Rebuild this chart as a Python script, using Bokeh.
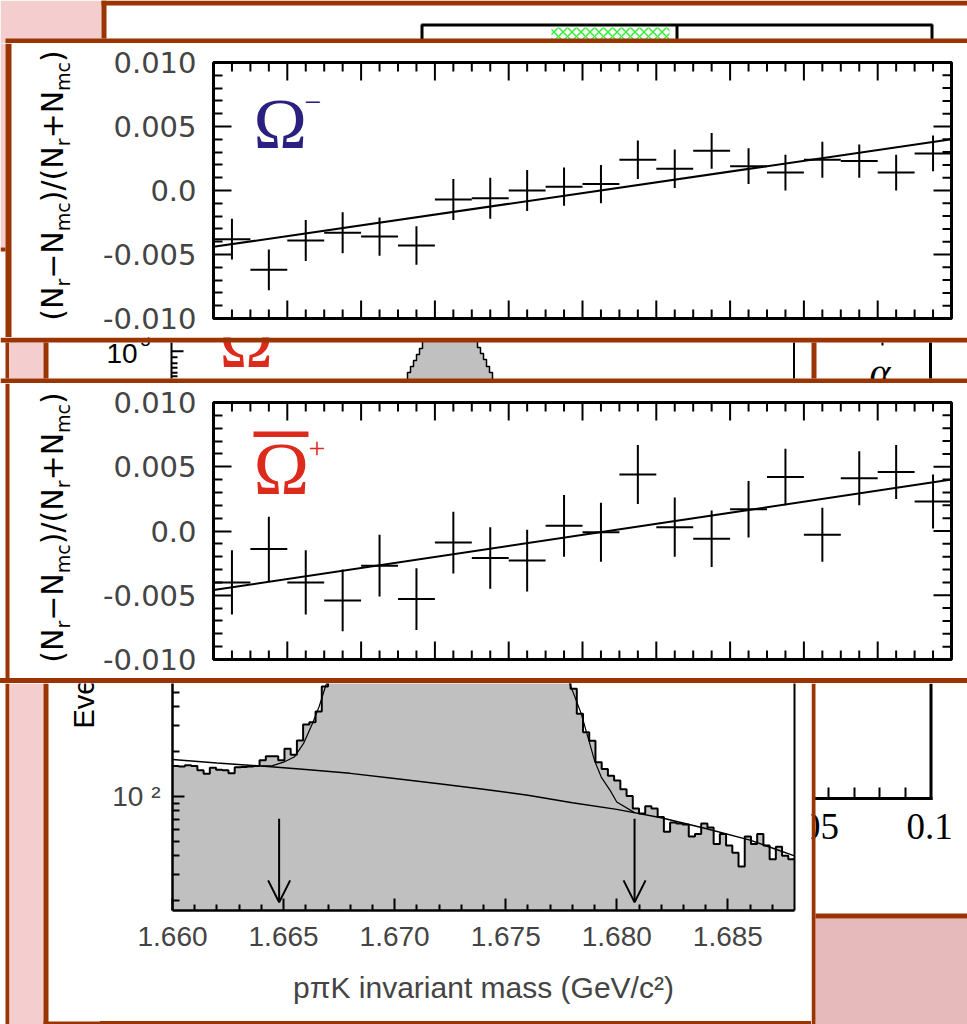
import numpy as np
from bokeh.plotting import figure
from bokeh.layouts import column, row
from bokeh.models import Range1d, LogAxis, FixedTicker, Label, Arrow, OpenHead, BoxAnnotation, Div
from bokeh.core.properties import value
from bokeh.embed import file_html
from bokeh.resources import INLINE

# ---------------- residual panels (20 bins) ----------------
bin_centers = [-0.95, -0.85, -0.75, -0.65, -0.55, -0.45, -0.35, -0.25, -0.15, -0.05,
               0.05, 0.15, 0.25, 0.35, 0.45, 0.55, 0.65, 0.75, 0.85, 0.95]
bin_half = 0.05
omega_minus_res = [-0.0038, -0.0062, -0.0039, -0.0033, -0.0036, -0.0043, -0.0007, -0.0006, -0.0000, 0.0003,
                   0.0005, 0.0024, 0.0017, 0.0031, 0.0019, 0.0014, 0.0024, 0.0023, 0.0014, 0.0029]
omega_minus_err = [0.0016, 0.0016, 0.0016, 0.0016, 0.0015, 0.0015, 0.0016, 0.0016, 0.0016, 0.0015,
                   0.0015, 0.0015, 0.0015, 0.0014, 0.0014, 0.0014, 0.0014, 0.0013, 0.0014, 0.0014]
omega_minus_fit = [-0.0002, 0.0042]        # intercept, slope
omegabar_plus_res = [-0.0040, -0.0014, -0.0040, -0.0054, -0.0027, -0.0053, -0.0009, -0.0021, -0.0023, 0.0004,
                     -0.0001, 0.0044, 0.0003, -0.0006, 0.0017, 0.0042, -0.0003, 0.0041, 0.0046, 0.0023]
omegabar_plus_err = [0.0025, 0.0025, 0.0025, 0.0024, 0.0024, 0.0024, 0.0024, 0.0024, 0.0024, 0.0024,
                     0.0023, 0.0023, 0.0023, 0.0022, 0.0022, 0.0022, 0.0021, 0.0021, 0.0021, 0.0021]
omegabar_plus_fit = [-0.0003, 0.0043]
res_x_range = [-1.0, 1.0]
res_y_range = [-0.010, 0.010]
res_x_ticks = [-0.8, -0.6, -0.4, -0.2, 0.0, 0.2, 0.4, 0.6, 0.8]
res_y_ticks = [-0.010, -0.005, 0.0, 0.005, 0.010]
res_y_labels = ["-0.010", "-0.005", "0.0", "0.005", "0.010"]

# ---------------- mass histogram ----------------
mass_range = [1.660, 1.688]
n_bins = 100
counts = [160, 159, 162, 160, 150, 142, 156, 151, 150, 143, 157, 158, 159, 160, 175, 186, 186, 175, 209, 191,
          238, 304, 315, 372, 547,
          700, 850, 1000, 1200, 1400, 1650, 1900, 2200, 2500, 2800, 3100, 3400, 3650, 3900, 4100,
          4250, 4350, 4420, 4450, 4450, 4400, 4320, 4200, 4050, 3850, 3600, 3350, 3100, 2800, 2500,
          2200, 1950, 1700, 1450, 1250, 1050, 900, 780, 640,
          529, 359, 270, 237, 170, 153, 138, 128, 112, 101, 83, 77, 86, 83, 73, 58, 67, 66, 65, 54,
          56, 66, 62, 48, 56, 47, 42, 34, 54, 48, 56, 47, 38, 46, 40, 38]
bkg_mass = [1.660, 1.662, 1.664, 1.666, 1.668, 1.670, 1.672, 1.674, 1.676, 1.678, 1.680, 1.682, 1.684, 1.686, 1.688]
bkg_counts = [177, 168, 160, 152, 143, 132, 122, 112, 102, 91, 82, 72, 61, 51, 40]
fit_mass = [1.6640, 1.6645, 1.6650, 1.6655, 1.6659, 1.6663, 1.6666, 1.6669, 1.6675, 1.6690, 1.6720,
            1.6740, 1.6760, 1.6775, 1.6780, 1.6784, 1.6787, 1.6790, 1.6793, 1.6797, 1.6800, 1.6808]
fit_counts = [160, 161, 170, 185, 227, 309, 400, 556, 900, 2000, 4000,
              4000, 2000, 800, 515, 359, 250, 174, 135, 110, 92, 78]
cut_mass = [1.6648, 1.6808]
arrow_from, arrow_to = 71.0, 19.5
mass_ticks = [1.660, 1.665, 1.670, 1.675, 1.680, 1.685]
mass_labels = ["1.660", "1.665", "1.670", "1.675", "1.680", "1.685"]
count_range = [17.2, 573.0]
count_major = [100]
count_minor = [20, 30, 40, 50, 60, 70, 80, 90, 200, 300, 400, 500]

# ---------------- styling ----------------
BROWN = "#9a3403"
PINK = "#f4cece"
PINK2 = "#e6baba"
NAVY = "#2a2080"
RED = "#dc2a1c"
GREY = "#c0c0c0"
W = 967
BL = 0.34   # baseline correction (fraction of font size)


def decor(x0, x1, y0, y1, bg="white"):
    p = figure(width=x1 - x0, height=y1 - y0, x_range=Range1d(x0, x1), y_range=Range1d(y1, y0),
               x_axis_type=None, y_axis_type=None, toolbar_location=None, output_backend="svg",
               min_border=0, outline_line_color=None, background_fill_color=bg, border_fill_color=bg)
    p.quad(left=[x0], right=[x1], top=[y0], bottom=[y1], fill_color=bg, line_color=None)
    return p


def box(p, l, r, t, b, c):
    p.quad(left=[l], right=[r], top=[t], bottom=[b], fill_color=c, line_color=None)


def seg(p, x0, y0, x1, y1, w=2, c="black"):
    p.segment(x0=[x0], y0=[y0], x1=[x1], y1=[y1], line_color=c, line_width=w)


def txt(p, x, y, t, font, size, color="black", align="left", style="normal", angle=0.0):
    # y (or x when rotated) is the wanted baseline; shift by the renderer's baseline offset
    if angle:
        x = x - BL * size
    else:
        y = y - BL * size
    p.text(x=[x], y=[y], text=[t], angle=angle, text_font=value(font), text_font_size=f"{size}px",
           text_color=color, text_align=align, text_baseline="alphabetic", text_font_style=style)


def bar(width, height):
    return Div(text="", width=width, height=height, margin=0,
               styles={"background-color": BROWN, "margin": "0", "padding": "0"})


DJ = {"(": 0.390, ")": 0.390, "N": 0.748, "\u2212": 0.838, "+": 0.838, "/": 0.337,
      "r": 0.411, "m": 0.974, "c": 0.550}
LABEL_PIECES = [("(N", 0), ("r", 1), ("\u2212N", 0), ("mc", 1), (")/(N", 0), ("r", 1),
                ("+N", 0), ("mc", 1), (")", 0)]


def vlabel(p, x_base, y_center, fs=30, fss=19, shift=7):
    widths = [sum(DJ[ch] for ch in t) * (fss if s else fs) for t, s in LABEL_PIECES]
    y = y_center + sum(widths) / 2.0
    for (t, s), w in zip(LABEL_PIECES, widths):
        txt(p, x_base + (shift if s else 0), y, t, "DejaVu Sans", fss if s else fs, angle=np.pi / 2)
        y -= w


def resid(y0, y1, res, err, fit, mtop=19, mbot=19):
    p = figure(width=W - 100, height=y1 - y0, x_range=Range1d(*res_x_range), y_range=Range1d(*res_y_range),
               x_axis_type=None, toolbar_location=None, output_backend="svg",
               min_border_left=113, min_border_right=16, min_border_top=mtop, min_border_bottom=mbot,
               outline_line_color="black", outline_line_width=3,
               background_fill_color="white", border_fill_color="white")
    p.grid.visible = False
    x_minor = [round(-1 + 0.05 * i, 2) for i in range(1, 40) if i % 4]
    y_minor = [round(0.001 * i, 3) for i in range(-9, 10) if i % 5]
    ya = p.yaxis[0]
    ya.ticker = FixedTicker(ticks=res_y_ticks, minor_ticks=y_minor)
    ya.major_tick_in = 18
    ya.major_tick_out = 0
    ya.minor_tick_in = 9
    ya.minor_tick_out = 0
    ya.major_tick_line_width = 2
    ya.minor_tick_line_width = 2
    ya.axis_line_color = None
    ya.major_label_overrides = dict(zip(res_y_ticks, res_y_labels))
    ya.major_label_text_font = "DejaVu Sans"
    ya.major_label_text_font_size = "29px"
    ya.major_label_standoff = 17
    # tick marks on the unlabelled sides (top, bottom, right)
    for ticks, ln in ((res_x_ticks, 18), (x_minor, 9)):
        p.ray(x=ticks, y=res_y_range[1], length=ln, length_units="screen", angle=-np.pi / 2,
              line_color="black", line_width=2)
        p.ray(x=ticks, y=res_y_range[0], length=ln, length_units="screen", angle=np.pi / 2,
              line_color="black", line_width=2)
    for ticks, ln in ((res_y_ticks, 18), (y_minor, 9)):
        p.ray(x=res_x_range[1], y=ticks, length=ln, length_units="screen", angle=np.pi,
              line_color="black", line_width=2)
    xs = np.array(bin_centers)
    ys = np.array(res)
    es = np.array(err)
    p.segment(x0=xs - bin_half, x1=xs + bin_half, y0=ys, y1=ys, line_color="black", line_width=2)
    p.segment(x0=xs, x1=xs, y0=ys - es, y1=ys + es, line_color="black", line_width=2)
    fx = np.array(res_x_range)
    p.line(fx, fit[0] + fit[1] * fx, line_color="black", line_width=2)
    return p


def px2data(frame, px, py):
    l, r, t, b = frame
    x = res_x_range[0] + (px - l) / (r - l) * (res_x_range[1] - res_x_range[0])
    y = res_y_range[1] - (py - t) / (b - t) * (res_y_range[1] - res_y_range[0])
    return x, y


def sym(p, frame, px, py, t, size, color):
    x, y = px2data(frame, px, py - BL * size)
    p.add_layout(Label(x=x, y=y, text=t, text_font="Liberation Serif", text_font_size=f"{size}px",
                       text_color=color, text_baseline="alphabetic"))


# ---------------- band A (0-43) ----------------
A = decor(0, W, 0, 43)
box(A, 0, 101, 0, 43, PINK)
box(A, 101, 106, 0, 38, BROWN)
box(A, 101, W, 0, 5, BROWN)
A.quad(left=[551], right=[669], top=[27], bottom=[39], fill_color=None, line_color=None,
       hatch_pattern="x", hatch_color="#33ee33", hatch_scale=9, hatch_weight=1.5)
seg(A, 421, 24.5, 932, 24.5, 3)
for xv in (421.5, 676.5, 931.5):
    seg(A, xv, 24, xv, 39, 3)
box(A, 5, W, 38, 43, BROWN)

# ---------------- Omega- panel (43-337) ----------------
L1 = decor(0, 100, 43, 337)
box(L1, 0, 5, 43, 247, PINK)
box(L1, 0, 5, 247, 251, BROWN)
box(L1, 5, 11, 43, 337, BROWN)
vlabel(L1, 62, 185)
P1 = resid(43, 337, omega_minus_res, omega_minus_err, omega_minus_fit)
f1 = (213, 951, 62, 318)
sym(P1, f1, 253, 148, "\u03a9", 72, NAVY)
sym(P1, f1, 304, 112, "\u2212", 30, NAVY)

# ---------------- band B (337-383) ----------------
B = decor(0, W, 337, 383)
box(B, 5, 8.5, 342, 378, BROWN)
box(B, 8.5, 43, 342, 378, PINK)
box(B, 43, 48, 342, 378, BROWN)
seg(B, 171, 342, 171, 378, 2)
seg(B, 171, 350.7, 183, 350.7, 2)
for yv in (356.7, 362.7, 367.3, 372.3, 375.7):
    seg(B, 171, yv, 177, yv, 2)
txt(B, 106, 363, "10", "Liberation Sans", 28)
txt(B, 140, 345, "3", "Liberation Sans", 18)
txt(B, 219, 367, "\u03a9", "Liberation Serif", 72, color=RED)
pk_x = [407, 407, 410, 410, 413, 413, 416, 416, 419, 419, 422, 422, 477, 477, 480, 480, 483, 483,
        486, 486, 489, 489, 492, 492]
pk_y = [380, 372, 372, 366, 366, 360, 360, 354, 354, 348, 348, 340, 340, 347, 347, 353, 353, 359,
        359, 366, 366, 372, 372, 380]
B.patch(pk_x, pk_y, fill_color=GREY, line_color="black", line_width=1.5)
seg(B, 793.5, 342, 793.5, 378, 2)
box(B, 811, 816, 342, 378, BROWN)
txt(B, 869, 386, "\u03b1", "Liberation Serif", 40, style="italic")
seg(B, 882, 342, 882, 345, 2)
seg(B, 930, 342, 930, 378, 3)
box(B, 0, W, 337, 342, BROWN)
box(B, 0, W, 378, 383, BROWN)

# ---------------- Omegabar+ panel (383-678) ----------------
L2 = decor(0, 100, 383, 678)
box(L2, 5, 9, 383, 678, BROWN)
vlabel(L2, 62, 527)
P2 = resid(383, 678, omegabar_plus_res, omegabar_plus_err, omegabar_plus_fit)
f2 = (213, 951, 402, 659)
sym(P2, f2, 253, 493, "\u03a9", 75, RED)
sym(P2, f2, 308, 458, "+", 30, RED)
bl, bt = px2data(f2, 253, 431)
br, bb = px2data(f2, 308, 436.5)
P2.add_layout(BoxAnnotation(left=bl, right=br, top=bt, bottom=bb, fill_color=RED, fill_alpha=1.0,
                            line_color=None))

# ---------------- band C (683-1024) ----------------
LC = decor(0, 100, 683, 1024)
box(LC, 5, 9, 683, 1024, BROWN)
box(LC, 9, 43, 683, 1024, PINK)
box(LC, 43, 48, 683, 1024, BROWN)
box(LC, 43, 100, 1021, 1024, BROWN)
txt(LC, 93, 728, "Events", "Liberation Sans", 29, angle=np.pi / 2)

H = figure(width=711, height=338, x_range=Range1d(*mass_range), y_range=Range1d(*count_range),
           y_axis_type="log", toolbar_location=None, output_backend="svg",
           min_border_left=72, min_border_right=17, min_border_top=0, min_border_bottom=111,
           outline_line_color=None, background_fill_color="white", border_fill_color="white")
H.grid.visible = False
edges = list(np.linspace(mass_range[0], mass_range[1], n_bins + 1))
steps = counts + [counts[-1]]
H.varea_step(x=edges, y1=[1.0] * len(edges), y2=steps, step_mode="after", fill_color=GREY)
H.step(x=edges, y=steps, mode="after", line_color="black", line_width=2)
H.line(bkg_mass, bkg_counts, line_color="black", line_width=1.5)
H.line(fit_mass, fit_counts, line_color="black", line_width=1.2)
for m in cut_mass:
    H.add_layout(Arrow(end=OpenHead(size=22, line_width=2), x_start=m, y_start=arrow_from,
                       x_end=m, y_end=arrow_to, line_width=2))
mass_minor = [round(mass_range[0] + 0.001 * i, 3) for i in range(1, 28) if i % 5]
H.xaxis.ticker = FixedTicker(ticks=mass_ticks, minor_ticks=mass_minor)
H.xaxis.major_label_overrides = dict(zip(mass_ticks, mass_labels))
H.yaxis.ticker = FixedTicker(ticks=count_major, minor_ticks=count_minor)
H.yaxis.major_label_overrides = {100: "10 \u00b2"}
H.add_layout(LogAxis(ticker=FixedTicker(ticks=[]), axis_line_width=2,
                     major_tick_line_color=None, minor_tick_line_color=None), "right")
for ax in (H.xaxis[0], H.yaxis[0]):
    ax.major_tick_in = 12
    ax.major_tick_out = 0
    ax.minor_tick_in = 6 if ax is H.xaxis[0] else 7
    ax.minor_tick_out = 0
    ax.major_tick_line_width = 2
    ax.minor_tick_line_width = 2
    ax.axis_line_width = 2.5
    ax.major_label_text_font = "Liberation Sans"
    ax.major_label_text_font_size = "28px"
H.xaxis.major_label_standoff = 16
H.yaxis.major_label_standoff = 12
H.xaxis.axis_label = "p\u03c0K invariant mass (GeV/c\u00b2)"
H.xaxis.axis_label_text_font = "Liberation Sans"
H.xaxis.axis_label_text_font_size = "30px"
H.xaxis.axis_label_text_font_style = "normal"
H.xaxis.axis_label_standoff = 22

RC = decor(811, W, 683, 1024)
box(RC, 815, W, 918, 1024, PINK2)
txt(RC, 806, 839, "0.05", "Liberation Serif", 37, align="center")
txt(RC, 929, 839, "0.1", "Liberation Serif", 37, align="center")
seg(RC, 930.5, 683, 930.5, 799.5, 3)
seg(RC, 812, 798, 932, 798, 3)
for xv in (828, 854, 879, 905):
    seg(RC, xv, 798, xv, 787, 2)
box(RC, 811, 815, 683, 1024, BROWN)
box(RC, 815, W, 913, 918, BROWN)

layout = column(
    A,
    row(L1, column(P1)),
    B,
    row(L2, column(P2)),
    bar(W, 5),
    row(LC, column(H, bar(711, 3)), RC),
)

open("out.html", "w").write(file_html(layout, INLINE))
